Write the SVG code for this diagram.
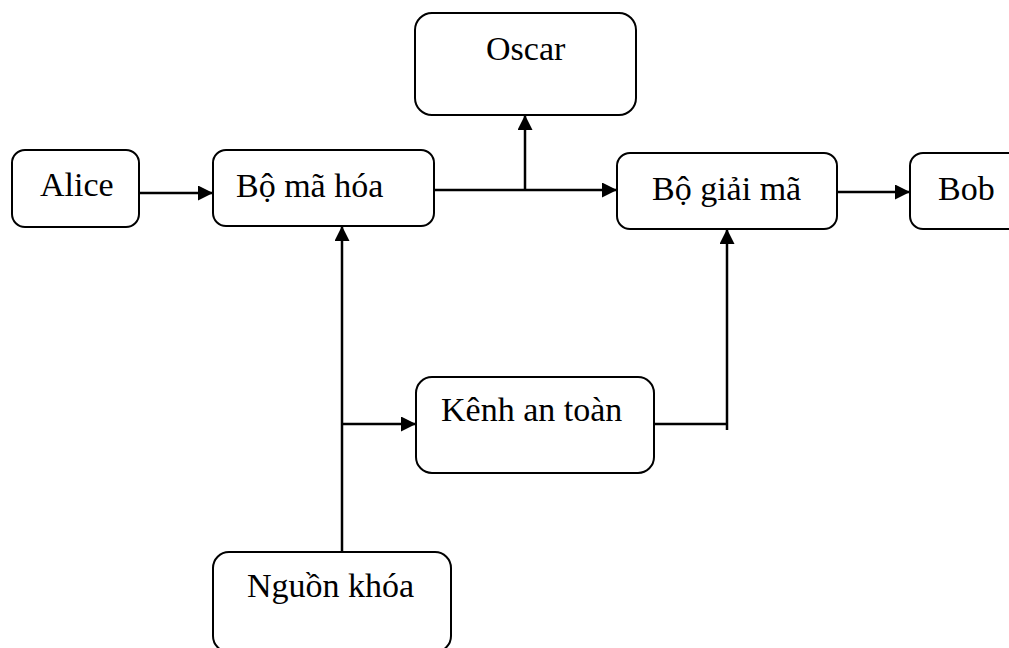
<svg xmlns="http://www.w3.org/2000/svg" width="1009" height="648" viewBox="0 0 1009 648">
<style>
.box{fill:#fff;stroke:#000;stroke-width:2}
.lbl{font-family:'Liberation Serif','Times New Roman','DejaVu Serif',serif;font-size:34px;fill:#000}
.ln{fill:none;stroke:#000;stroke-width:2.5}
</style>
<defs>
<marker id="ah" markerUnits="userSpaceOnUse" markerWidth="15" markerHeight="15" refX="15" refY="7.5" orient="auto">
<path d="M0,0 L15,7.5 L0,15 Z" fill="#000"/>
</marker>
</defs>
<rect width="1009" height="648" fill="#fff"/>
<g id="alice"><rect class="box" x="12" y="150" width="127" height="77" rx="13"/><text class="lbl" x="40" y="196">Alice</text></g>
<g id="encoder"><rect class="box" x="213" y="150" width="221" height="76" rx="13"/><text class="lbl" x="236" y="197">Bộ mã hóa</text></g>
<g id="oscar"><rect class="box" x="415" y="13" width="221" height="102" rx="17"/><text class="lbl" x="486" y="60">Oscar</text></g>
<g id="decoder"><rect class="box" x="617" y="153" width="220" height="76" rx="13"/><text class="lbl" x="652" y="200">Bộ giải mã</text></g>
<g id="bob"><rect class="box" x="910" y="153" width="130" height="76" rx="13"/><text class="lbl" x="938" y="200">Bob</text></g>
<g id="channel"><rect class="box" x="416" y="377" width="238" height="96" rx="16"/><text class="lbl" x="441" y="421">Kênh an toàn</text></g>
<g id="keysource"><rect class="box" x="213" y="552" width="238" height="100" rx="16"/><text class="lbl" x="247" y="597">Nguồn khóa</text></g>
<g id="connectors">
<line class="ln" x1="139" y1="193" x2="213" y2="193" marker-end="url(#ah)"/>
<line class="ln" x1="434" y1="190" x2="617" y2="190" marker-end="url(#ah)"/>
<line class="ln" x1="525" y1="190" x2="525" y2="115" marker-end="url(#ah)"/>
<line class="ln" x1="837" y1="192" x2="910" y2="192" marker-end="url(#ah)"/>
<line class="ln" x1="342" y1="552" x2="342" y2="226" marker-end="url(#ah)"/>
<line class="ln" x1="342" y1="424" x2="416" y2="424" marker-end="url(#ah)"/>
<line class="ln" x1="654" y1="424" x2="727" y2="424"/>
<line class="ln" x1="727" y1="430" x2="727" y2="229" marker-end="url(#ah)"/>
</g>
</svg>
